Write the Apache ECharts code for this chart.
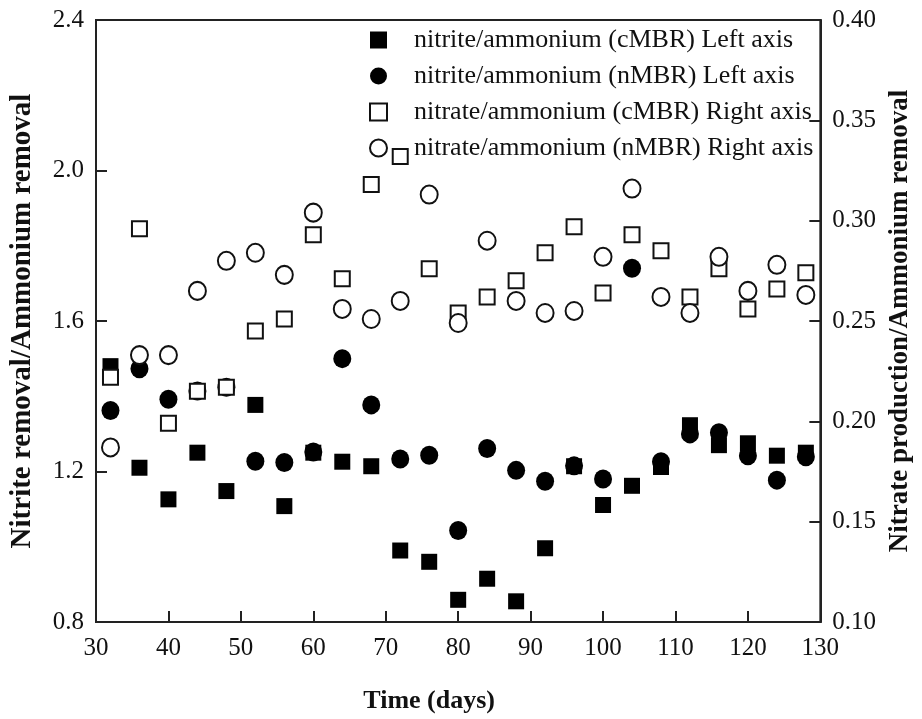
<!DOCTYPE html>
<html>
<head>
<meta charset="utf-8">
<script src="https://cdn.jsdelivr.net/npm/echarts@6/dist/echarts.min.js"></script>
<style>
html,body{margin:0;padding:0;background:#fff;}
#chart{width:922px;height:719px;}
</style>
</head>
<body>
<div id="chart"></div>
<script>
const days = [32,36,40,44,48,52,56,60,64,68,72,76,80,84,88,92,96,100,104,108,112,116,120,124,128];
const nitriteCMBR = [1.48,1.21,1.126,1.25,1.148,1.377,1.108,1.25,1.226,1.214,0.99,0.96,0.859,0.915,0.855,0.996,1.214,1.111,1.162,1.212,1.323,1.27,1.275,1.242,1.25];
const nitriteNMBR = [1.362,1.473,1.392,1.414,1.424,1.227,1.224,1.252,1.50,1.377,1.233,1.243,1.043,1.261,1.203,1.174,1.215,1.18,1.74,1.226,1.30,1.303,1.242,1.177,1.239];
const nitrateCMBR = [0.222,0.296,0.199,0.215,0.217,0.245,0.251,0.293,0.271,0.318,0.332,0.276,0.254,0.262,0.270,0.284,0.297,0.264,0.293,0.285,0.262,0.276,0.256,0.266,0.274];
const nitrateNMBR = [0.187,0.233,0.233,0.265,0.280,0.284,0.273,0.304,0.256,0.251,0.260,0.313,0.249,0.290,0.260,0.254,0.255,0.282,0.316,0.262,0.254,0.282,0.265,0.278,0.263];
const seriesNames = [
  'nitrite/ammonium (cMBR) Left axis',
  'nitrite/ammonium (nMBR) Left axis',
  'nitrate/ammonium (cMBR) Right axis',
  'nitrate/ammonium (nMBR) Right axis'
];
const leftTitle = 'Nitrite removal/Ammonium removal';
const rightTitle = 'Nitrate production/Ammonium removal';
const xTitle = 'Time (days)';

function pairs(vals){ return days.map((d,i)=>[d, vals[i]]); }
const FONT = 'Liberation Serif';
const chart = echarts.init(document.getElementById('chart'), null, {renderer:'canvas'});
const axisLine = {show:true, lineStyle:{color:'#222', width:2}};
const axisTick = {show:true, inside:true, length:11, lineStyle:{color:'#222', width:2}};
chart.setOption({
  animation:false,
  backgroundColor:'#fff',
  grid:{left:93, right:89, top:20, bottom:95, show:true, borderColor:'#222', borderWidth:2, backgroundColor:'transparent'},
  legend:{
    orient:'vertical', left:364, top:22, itemGap:10, itemWidth:17, itemHeight:17,
    data: seriesNames,
    textStyle:{fontFamily:FONT, fontSize:26, color:'#111', padding:[0,0,0,22]}
  },
  xAxis:{
    type:'value', min:30, max:130, interval:10,
    axisLine:axisLine, axisTick:axisTick, splitLine:{show:false},
    axisLabel:{fontFamily:FONT, fontSize:25, color:'#111', margin:14},
    name:xTitle, nameLocation:'middle', nameGap:66,
    nameTextStyle:{fontFamily:FONT, fontSize:26, fontWeight:'bold', color:'#111', padding:[0,58,0,0]}
  },
  yAxis:[{
    type:'value', min:0.8, max:2.4, interval:0.4, position:'left',
    axisLine:axisLine, axisTick:axisTick, splitLine:{show:false},
    axisLabel:{fontFamily:FONT, fontSize:25, color:'#111', margin:12, formatter:v=>v.toFixed(1)},
    name:leftTitle, nameLocation:'middle', nameGap:59,
    nameTextStyle:{fontFamily:FONT, fontSize:29, fontWeight:'bold', color:'#111'}
  },{
    type:'value', min:0.1, max:0.4, interval:0.05, position:'right',
    axisLine:axisLine, axisTick:axisTick, splitLine:{show:false},
    axisLabel:{fontFamily:FONT, fontSize:25, color:'#111', margin:12, formatter:v=>v.toFixed(2)},
    name:rightTitle, nameLocation:'middle', nameGap:66, nameRotate:90,
    nameTextStyle:{fontFamily:FONT, fontSize:27, fontWeight:'bold', color:'#111'}
  }],
  series:[
    {name:seriesNames[0], type:'scatter', yAxisIndex:0, symbol:'rect', symbolSize:16,
     itemStyle:{color:'#000', opacity:1}, data:pairs(nitriteCMBR)},
    {name:seriesNames[1], type:'scatter', yAxisIndex:0, symbol:'circle', symbolSize:[18,19],
     itemStyle:{color:'#000', opacity:1}, data:pairs(nitriteNMBR)},
    {name:seriesNames[2], type:'scatter', yAxisIndex:1, symbol:'rect', symbolSize:15,
     itemStyle:{color:'#fff', borderColor:'#111', borderWidth:2, opacity:1}, data:pairs(nitrateCMBR)},
    {name:seriesNames[3], type:'scatter', yAxisIndex:1, symbol:'circle', symbolSize:[17,18],
     itemStyle:{color:'#fff', borderColor:'#111', borderWidth:2, opacity:1}, data:pairs(nitrateNMBR)}
  ]
});
</script>
</body>
</html>
